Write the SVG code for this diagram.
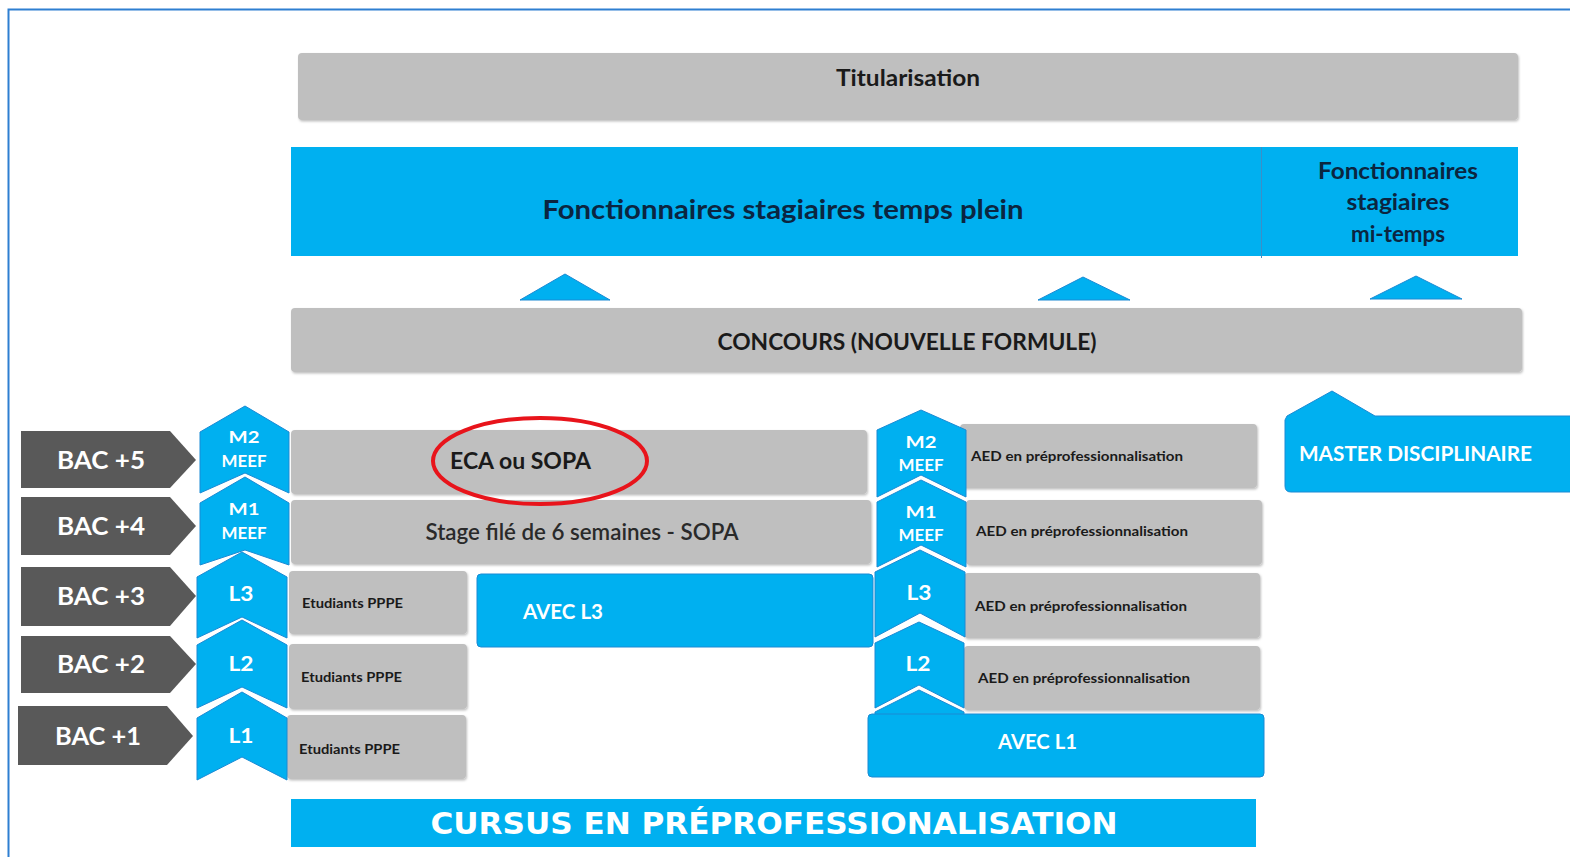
<svg xmlns="http://www.w3.org/2000/svg" width="1570" height="857" viewBox="0 0 1570 857">
<style>
text{font-family:Lato,"Open Sans","Liberation Sans",sans-serif;font-weight:bold}
.gray{fill:#bfbfbf}
.blue{fill:#00b0f0}
.bluebox{fill:#00b0f0;stroke:#1a8ad4;stroke-width:1}
.chev{fill:#00b0f0;stroke:#1a8ad4;stroke-width:1}
.bac{fill:#595959}
.tri{fill:#00b0f0;stroke:#1a8ad4;stroke-width:1}
.w{fill:#ffffff}
.d{fill:#1a1a1a}
.n{fill:#0b2540}
.c{text-anchor:middle}
</style>
<defs>
<filter id="sh" x="-5%" y="-10%" width="110%" height="130%">
<feDropShadow dx="1" dy="1.5" stdDeviation="1" flood-color="#000" flood-opacity="0.25"/>
</filter>
</defs>
<rect width="1570" height="857" fill="#ffffff"/>
<path d="M8.5,857 L8.5,9.5 L1570,9.5" fill="none" stroke="#2e7fd1" stroke-width="2"/>

<g id="titularisation"><rect class="gray" x="298" y="53" width="1220" height="67" rx="4" filter="url(#sh)"/>
<text class="d c" x="908" y="86" font-size="22" textLength="144" lengthAdjust="spacingAndGlyphs">Titularisation</text></g>

<g id="fonct-plein"><rect class="blue" x="291" y="147" width="970" height="109"/>
<text class="n c" x="783" y="219" font-size="26" textLength="481" lengthAdjust="spacingAndGlyphs">Fonctionnaires stagiaires temps plein</text></g>
<g id="fonct-mi"><rect class="blue" x="1262" y="147" width="256" height="109"/>
<line x1="1261.5" y1="147" x2="1261.5" y2="258" stroke="#3a8fc8" stroke-width="1"/>
<text class="n c" x="1398" y="179" font-size="22" textLength="160" lengthAdjust="spacingAndGlyphs">Fonctionnaires</text>
<text class="n c" x="1398" y="210" font-size="22" textLength="103" lengthAdjust="spacingAndGlyphs">stagiaires</text>
<text class="n c" x="1398" y="242" font-size="22" textLength="94" lengthAdjust="spacingAndGlyphs">mi-temps</text></g>

<g id="connectors">
<path class="tri" d="M520,300 L565,274 L610,300 Z"/>
<path class="tri" d="M1038,300 L1083,277 L1130,300 Z"/>
<path class="tri" d="M1370,299 L1416,276 L1462,299 Z"/>
</g>

<g id="concours"><rect class="gray" x="291" y="308" width="1231" height="64" rx="4" filter="url(#sh)"/>
<text class="d c" x="907" y="350" font-size="22" textLength="379" lengthAdjust="spacingAndGlyphs">CONCOURS (NOUVELLE FORMULE)</text></g>

<g id="master"><path class="bluebox" d="M1287,416 L1332,391 L1375,416 L1572,416 L1572,492 L1291,492 Q1285,492 1285,486 L1285,420 Z"/>
<text class="w" x="1299" y="461" font-size="20" textLength="233" lengthAdjust="spacingAndGlyphs">MASTER DISCIPLINAIRE</text></g>

<g id="bac5"><path class="bac" d="M21,431 L170,431 L196,460 L170,488 L21,488 Z"/><text class="w c" x="101" y="469" font-size="25" textLength="88" lengthAdjust="spacingAndGlyphs">BAC +5</text></g>
<g id="bac4"><path class="bac" d="M21,497 L170,497 L196,526 L170,555 L21,555 Z"/><text class="w c" x="101" y="535" font-size="25" textLength="88" lengthAdjust="spacingAndGlyphs">BAC +4</text></g>
<g id="bac3"><path class="bac" d="M21,567 L170,567 L196,596 L170,626 L21,626 Z"/><text class="w c" x="101" y="605" font-size="25" textLength="88" lengthAdjust="spacingAndGlyphs">BAC +3</text></g>
<g id="bac2"><path class="bac" d="M21,636 L170,636 L196,664 L170,693 L21,693 Z"/><text class="w c" x="101" y="673" font-size="25" textLength="88" lengthAdjust="spacingAndGlyphs">BAC +2</text></g>
<g id="bac1"><path class="bac" d="M18,706 L167,706 L193,736 L167,765 L18,765 Z"/><text class="w c" x="98" y="745" font-size="25" textLength="86" lengthAdjust="spacingAndGlyphs">BAC +1</text></g>

<g id="eca"><rect class="gray" x="291" y="430" width="576" height="64" rx="4" filter="url(#sh)"/>
<text class="d" x="450" y="469" font-size="22" textLength="141" lengthAdjust="spacingAndGlyphs">ECA ou SOPA</text></g>
<g id="stage"><rect class="gray" x="291" y="500" width="580" height="64" rx="4" filter="url(#sh)"/>
<text class="c" x="582" y="540" font-size="22" font-weight="normal" fill="#2a2a2a" style="font-weight:600" textLength="313" lengthAdjust="spacingAndGlyphs">Stage filé de 6 semaines - SOPA</text></g>
<g id="pppe3"><rect class="gray" x="289" y="571" width="178" height="63" rx="4" filter="url(#sh)"/>
<text class="d" x="302" y="608" font-size="14" textLength="101" lengthAdjust="spacingAndGlyphs">Etudiants PPPE</text></g>
<g id="avecl3"><rect class="bluebox" x="477" y="574" width="396" height="73" rx="4"/>
<text class="w" x="523" y="619" font-size="20" textLength="80" lengthAdjust="spacingAndGlyphs">AVEC L3</text></g>
<g id="pppe2"><rect class="gray" x="289" y="644" width="178" height="65" rx="4" filter="url(#sh)"/>
<text class="d" x="301" y="682" font-size="14" textLength="101" lengthAdjust="spacingAndGlyphs">Etudiants PPPE</text></g>
<g id="pppe1"><rect class="gray" x="287" y="715" width="179" height="64" rx="4" filter="url(#sh)"/>
<text class="d" x="299" y="754" font-size="14" textLength="101" lengthAdjust="spacingAndGlyphs">Etudiants PPPE</text></g>

<g id="ellipse"><ellipse cx="540" cy="461" rx="107" ry="43" fill="none" stroke="#e8141b" stroke-width="4"/></g>

<g id="left-m2"><path class="chev" d="M200,432 L245,406 L289,432 L289,493 L245,473 L200,493 Z"/>
<text class="w c" x="244" y="443" font-size="17" textLength="31" lengthAdjust="spacingAndGlyphs">M2</text>
<text class="w c" x="244" y="467" font-size="17" textLength="45" lengthAdjust="spacingAndGlyphs">MEEF</text></g>
<g id="left-m1"><path class="chev" d="M200,503 L245,477 L289,503 L289,565 L245,550 L200,565 Z"/>
<text class="w c" x="244" y="515" font-size="17" textLength="31" lengthAdjust="spacingAndGlyphs">M1</text>
<text class="w c" x="244" y="539" font-size="17" textLength="45" lengthAdjust="spacingAndGlyphs">MEEF</text></g>
<g id="left-l3"><path class="chev" d="M197,577 L242,552 L287,577 L287,638 L242,617 L197,638 Z"/>
<text class="w c" x="241" y="601" font-size="20" textLength="25" lengthAdjust="spacingAndGlyphs">L3</text></g>
<g id="left-l2"><path class="chev" d="M197,645 L242,620 L287,645 L287,708 L242,687 L197,708 Z"/>
<text class="w c" x="241" y="671" font-size="20" textLength="25" lengthAdjust="spacingAndGlyphs">L2</text></g>
<g id="left-l1"><path class="chev" d="M197,718 L242,692 L287,718 L287,780 L242,757 L197,780 Z"/>
<text class="w c" x="241" y="743" font-size="20" textLength="25" lengthAdjust="spacingAndGlyphs">L1</text></g>

<g id="aed-m2"><rect class="gray" x="960" y="424" width="297" height="64" rx="4" filter="url(#sh)"/>
<text class="d" x="971" y="461" font-size="14" textLength="212" lengthAdjust="spacingAndGlyphs">AED en préprofessionnalisation</text></g>
<g id="aed-m1"><rect class="gray" x="966" y="500" width="296" height="65" rx="4" filter="url(#sh)"/>
<text class="d" x="976" y="536" font-size="14" textLength="212" lengthAdjust="spacingAndGlyphs">AED en préprofessionnalisation</text></g>
<g id="aed-l3"><rect class="gray" x="964" y="573" width="296" height="65" rx="4" filter="url(#sh)"/>
<text class="d" x="975" y="611" font-size="14" textLength="212" lengthAdjust="spacingAndGlyphs">AED en préprofessionnalisation</text></g>
<g id="aed-l2"><rect class="gray" x="964" y="646" width="296" height="64" rx="4" filter="url(#sh)"/>
<text class="d" x="978" y="683" font-size="14" textLength="212" lengthAdjust="spacingAndGlyphs">AED en préprofessionnalisation</text></g>

<g id="right-m2"><path class="chev" d="M877,430 L921,410 L966,430 L966,497 L921,475 L877,497 Z"/>
<text class="w c" x="921" y="448" font-size="17" textLength="31" lengthAdjust="spacingAndGlyphs">M2</text>
<text class="w c" x="921" y="471" font-size="17" textLength="45" lengthAdjust="spacingAndGlyphs">MEEF</text></g>
<g id="right-m1"><path class="chev" d="M877,502 L921,480 L966,502 L966,567 L921,545 L877,567 Z"/>
<text class="w c" x="921" y="518" font-size="17" textLength="31" lengthAdjust="spacingAndGlyphs">M1</text>
<text class="w c" x="921" y="541" font-size="17" textLength="45" lengthAdjust="spacingAndGlyphs">MEEF</text></g>
<g id="right-l3"><path class="chev" d="M875,572 L920,550 L965,572 L965,637 L920,613 L875,637 Z"/>
<text class="w c" x="919" y="600" font-size="20" textLength="25" lengthAdjust="spacingAndGlyphs">L3</text></g>
<g id="right-l2"><path class="chev" d="M875,643 L919,622 L964,643 L964,708 L919,685 L875,708 Z"/>
<text class="w c" x="918" y="671" font-size="20" textLength="25" lengthAdjust="spacingAndGlyphs">L2</text></g>
<g id="right-l1"><path class="chev" d="M875,712 L919,690 L964,712 L964,760 L875,760 Z"/></g>

<g id="avecl1"><rect class="bluebox" x="868" y="714" width="396" height="63" rx="4"/>
<text class="w" x="998" y="749" font-size="20" textLength="79" lengthAdjust="spacingAndGlyphs">AVEC L1</text></g>

<g id="cursus"><rect class="blue" x="291" y="799" width="965" height="48"/>
<text class="w c" x="774" y="834" font-size="31" font-family="'DejaVu Sans Condensed','Liberation Sans',sans-serif" style="font-family:'DejaVu Sans','Liberation Sans',sans-serif;font-weight:bold" textLength="687" lengthAdjust="spacingAndGlyphs">CURSUS EN PRÉPROFESSIONALISATION</text></g>
</svg>
